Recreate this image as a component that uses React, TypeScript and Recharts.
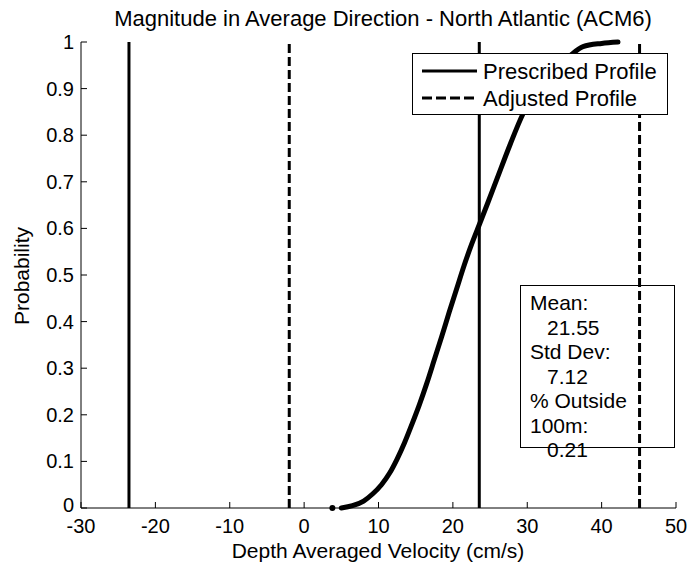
import React from 'react';
import { ComposedChart, Line, Scatter, XAxis, YAxis, ReferenceLine } from 'recharts';

const velocity = [5.0, 6.5, 8.0, 9.2, 10.4, 11.5, 12.5, 13.5, 14.5, 15.5, 16.5, 17.5, 18.5, 19.5, 20.5, 21.5, 22.5, 23.6, 24.7, 25.9, 27.7, 29.4, 31.5, 33.5, 35.7, 37.5, 40.0, 42.2];
const probability = [0, 0.005, 0.015, 0.03, 0.05, 0.075, 0.105, 0.14, 0.18, 0.222, 0.268, 0.318, 0.368, 0.42, 0.47, 0.52, 0.565, 0.61, 0.655, 0.705, 0.78, 0.845, 0.9, 0.94, 0.97, 0.99, 0.997, 1.0];
const isolatedVelocity = [3.8];
const isolatedProbability = [0];
const xTicks = [-30, -20, -10, 0, 10, 20, 30, 40, 50];
const yTicks = [0, 0.1, 0.2, 0.3, 0.4, 0.5, 0.6, 0.7, 0.8, 0.9, 1];
const yTickLabels = ['0', '0.1', '0.2', '0.3', '0.4', '0.5', '0.6', '0.7', '0.8', '0.9', '1'];
const prescribedLimits = [-23.55, 23.55];
const adjustedLimits = [-2.0, 45.1];
const legendLabels = ['Prescribed Profile', 'Adjusted Profile'];
const statsLines = ['Mean:', '21.55', 'Std Dev:', '7.12', '% Outside', '100m:', '0.21'];
const statsIndented = [false, true, false, true, false, false, true];
const title = 'Magnitude in Average Direction - North Atlantic (ACM6)';
const xTitle = 'Depth Averaged Velocity (cm/s)';
const yTitle = 'Probability';

const FONT = '"Liberation Sans", Arial, Helvetica, sans-serif';

const cdfData = velocity.map((v, i) => ({ v, p: probability[i] }));
const isolatedData = isolatedVelocity.map((v, i) => ({ v, p: isolatedProbability[i] }));

const XTick = (props: any) => {
  const { x, y, payload } = props;
  return (
    <g>
      <line x1={x} x2={x} y1={y} y2={y - 6} stroke="#000" strokeWidth={1} />
      <text x={x} y={y + 25} textAnchor="middle" fontSize={20} fontFamily={FONT} fill="#000">
        {payload.value}
      </text>
    </g>
  );
};

const YTick = (props: any) => {
  const { x, y, payload } = props;
  const idx = yTicks.indexOf(payload.value);
  const shift = idx === 0 ? -3 : 0;
  return (
    <g>
      <line x1={x} x2={x + 6} y1={y} y2={y} stroke="#000" strokeWidth={1} />
      <text x={x - 7} y={y + 7 + shift} textAnchor="end" fontSize={20} fontFamily={FONT} fill="#000">
        {idx >= 0 ? yTickLabels[idx] : payload.value}
      </text>
    </g>
  );
};

export default function App() {
  return (
    <div style={{ position: 'absolute', left: 0, top: 0, width: 694, height: 564, background: '#fff', fontFamily: FONT }}>
      <ComposedChart
        width={694}
        height={564}
        margin={{ top: 42, right: 18, bottom: 0, left: 0 }}
        style={{ fontFamily: FONT }}
      >
        <XAxis
          dataKey="v"
          type="number"
          domain={[-30, 50]}
          ticks={xTicks}
          allowDataOverflow
          height={56}
          tickSize={0}
          tickMargin={0}
          tickLine={false}
          axisLine={{ stroke: '#000', strokeWidth: 1 }}
          tick={<XTick />}
          interval={0}
        />
        <YAxis
          dataKey="p"
          type="number"
          domain={[0, 1]}
          ticks={yTicks}
          width={81}
          tickSize={0}
          tickMargin={0}
          tickLine={false}
          axisLine={{ stroke: '#000', strokeWidth: 1 }}
          tick={<YTick />}
          interval={0}
        />
        {prescribedLimits.map((x) => (
          <ReferenceLine key={'p' + x} x={x} stroke="#000" strokeWidth={3} />
        ))}
        {adjustedLimits.map((x) => (
          <ReferenceLine key={'a' + x} x={x} stroke="#000" strokeWidth={3} strokeDasharray="9 4" />
        ))}
        <Line
          data={cdfData}
          dataKey="p"
          type="monotone"
          stroke="#000"
          strokeWidth={5}
          strokeLinecap="round"
          dot={false}
          activeDot={false}
          isAnimationActive={false}
        />
        <Scatter data={isolatedData} dataKey="p" fill="#000" isAnimationActive={false} shape={(p: any) => <circle cx={p.cx} cy={p.cy} r={3} fill="#000" />} />
      </ComposedChart>

      <svg width={694} height={564} style={{ position: 'absolute', left: 0, top: 0, pointerEvents: 'none' }}>
        <text x={383} y={26} textAnchor="middle" fontSize={22} fontFamily={FONT} fill="#000">{title}</text>
        <text x={378} y={558} textAnchor="middle" fontSize={21} fontFamily={FONT} fill="#000">{xTitle}</text>
        <text x={0} y={0} transform="translate(29,276) rotate(-90)" textAnchor="middle" fontSize={21} fontFamily={FONT} fill="#000">{yTitle}</text>

        {/* legend */}
        <rect x={412.5} y={53.5} width={255} height={61} fill="#fff" stroke="#000" strokeWidth={1} />
        <line x1={422} x2={477} y1={71} y2={71} stroke="#000" strokeWidth={3} />
        <text x={483} y={79} fontSize={22} fontFamily={FONT} fill="#000">{legendLabels[0]}</text>
        <line x1={422} x2={477} y1={98} y2={98} stroke="#000" strokeWidth={3} strokeDasharray="10 4" />
        <text x={483} y={106} fontSize={22} fontFamily={FONT} fill="#000">{legendLabels[1]}</text>

        {/* stats box */}
        <rect x={520.5} y={285.5} width={154} height={162} fill="none" stroke="#000" strokeWidth={1} />
        {statsLines.map((s, i) => (
          <text key={i} x={statsIndented[i] ? 547 : 530} y={310 + i * 24.5} fontSize={21} fontFamily={FONT} fill="#000">{s}</text>
        ))}
      </svg>
    </div>
  );
}
